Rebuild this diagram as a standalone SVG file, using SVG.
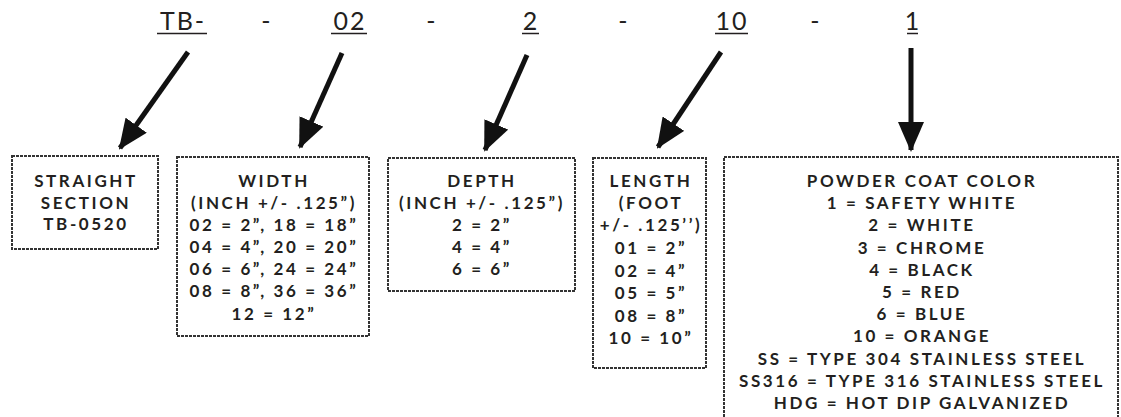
<svg xmlns="http://www.w3.org/2000/svg" width="1121" height="417" viewBox="0 0 1121 417">
<style>
.top{font-family:Lato,"Liberation Sans",sans-serif;font-size:25px;fill:#231f20;letter-spacing:2px;text-anchor:middle}
.ul{stroke:#231f20;stroke-width:1.5}
.box{fill:#fff;stroke:#333;stroke-width:2;stroke-dasharray:3 1}
.t{font-family:Lato,"Liberation Sans",sans-serif;font-size:17px;font-weight:bold;fill:#231f20;letter-spacing:2.6px;text-anchor:middle}
.arr{stroke:#111;stroke-width:5;fill:none;marker-end:url(#ah)}
</style>
<defs>
<marker id="ah" markerUnits="userSpaceOnUse" markerWidth="30" markerHeight="26" viewBox="0 0 30 26" refX="28" refY="13" orient="auto">
<path d="M0,0 L30,13 L0,26 Z" fill="#111"/>
</marker>
</defs>
<rect width="1121" height="417" fill="#fff"/>
<g id="code">
<text class="top" x="183" y="30">TB-</text>
<line class="ul" x1="157" y1="33.5" x2="207" y2="33.5"/>
<text class="top" x="267" y="30">-</text>
<text class="top" x="350" y="30">02</text>
<line class="ul" x1="331" y1="33.5" x2="367" y2="33.5"/>
<text class="top" x="432" y="30">-</text>
<text class="top" x="531" y="30">2</text>
<line class="ul" x1="522" y1="33.5" x2="539" y2="33.5"/>
<text class="top" x="624" y="30">-</text>
<text class="top" x="732" y="30">10</text>
<line class="ul" x1="715" y1="33.5" x2="748" y2="33.5"/>
<text class="top" x="816" y="30">-</text>
<text class="top" x="913" y="30">1</text>
<line class="ul" x1="907" y1="33.5" x2="918" y2="33.5"/>
</g>
<g id="connectors">
<line class="arr" x1="188" y1="52" x2="120" y2="148"/>
<line class="arr" x1="342" y1="53" x2="300" y2="147"/>
<line class="arr" x1="527" y1="55" x2="485" y2="150"/>
<line class="arr" x1="721" y1="52" x2="658" y2="147"/>
<line class="arr" x1="911" y1="48" x2="911" y2="150"/>
</g>
<g id="straight">
<rect class="box" x="12" y="156" width="146" height="93"/>
<text class="t" x="86" y="187">STRAIGHT</text>
<text class="t" x="86" y="208.5">SECTION</text>
<text class="t" x="86" y="230">TB-0520</text>
</g>
<g id="width">
<rect class="box" x="177" y="157" width="192" height="179"/>
<text class="t" x="274" y="187">WIDTH</text>
<text class="t" x="274" y="209">(INCH +/- .125”)</text>
<text class="t" x="274" y="231">02 = 2”, 18 = 18”</text>
<text class="t" x="274" y="253">04 = 4”, 20 = 20”</text>
<text class="t" x="274" y="275">06 = 6”, 24 = 24”</text>
<text class="t" x="274" y="297">08 = 8”, 36 = 36”</text>
<text class="t" x="274" y="320">12 = 12”</text>
</g>
<g id="depth">
<rect class="box" x="388" y="158" width="187" height="133"/>
<text class="t" x="482" y="187">DEPTH</text>
<text class="t" x="482" y="208.5">(INCH +/- .125”)</text>
<text class="t" x="482" y="230.5">2 = 2”</text>
<text class="t" x="482" y="252.5">4 = 4”</text>
<text class="t" x="482" y="275">6 = 6”</text>
</g>
<g id="length">
<rect class="box" x="593" y="158" width="113" height="210"/>
<text class="t" x="651" y="187">LENGTH</text>
<text class="t" x="651" y="209">(FOOT</text>
<text class="t" x="651" y="231">+/- .125’’)</text>
<text class="t" x="651" y="254">01 = 2”</text>
<text class="t" x="651" y="276.5">02 = 4”</text>
<text class="t" x="651" y="299">05 = 5”</text>
<text class="t" x="651" y="321.5">08 = 8”</text>
<text class="t" x="651" y="344">10 = 10”</text>
</g>
<g id="powder">
<rect class="box" x="724" y="157" width="394" height="280"/>
<text class="t" x="922" y="187">POWDER COAT COLOR</text>
<text class="t" x="922" y="209.2">1 = SAFETY WHITE</text>
<text class="t" x="922" y="231.4">2 = WHITE</text>
<text class="t" x="922" y="253.6">3 = CHROME</text>
<text class="t" x="922" y="275.8">4 = BLACK</text>
<text class="t" x="922" y="298">5 = RED</text>
<text class="t" x="922" y="320.2">6 = BLUE</text>
<text class="t" x="922" y="342.4">10 = ORANGE</text>
<text class="t" x="922" y="364.6">SS = TYPE 304 STAINLESS STEEL</text>
<text class="t" x="922" y="386.8">SS316 = TYPE 316 STAINLESS STEEL</text>
<text class="t" x="922" y="409">HDG = HOT DIP GALVANIZED</text>
</g>
</svg>
